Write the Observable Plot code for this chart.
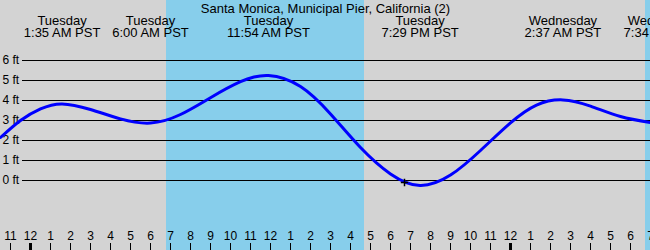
<!DOCTYPE html>
<html>
<head>
<meta charset="utf-8">
<script src="https://cdn.jsdelivr.net/npm/d3@7"></script>
<script src="https://cdn.jsdelivr.net/npm/@observablehq/plot@0.6"></script>
<style>
  html, body { margin: 0; padding: 0; background: #d3d3d3; }
</style>
</head>
<body>
<div id="chart"></div>
<script>
// Hours since Tuesday 00:00 PST
const title = "Santa Monica, Municipal Pier, California (2)";

const tideHours = [-1.5, -0.5, 0.5, 1.58, 3.0, 4.5, 6.0, 7.5, 9.0, 10.5, 11.9, 13.5, 15, 16.5, 18, 19.48, 21, 22.5, 24, 25.3, 26.62, 28, 29.5, 31];
const tideFeet  = [2.15, 3.0, 3.58, 3.83, 3.55, 3.08, 2.87, 3.3, 4.14, 4.94, 5.25, 4.7, 3.33, 1.65, 0.33, -0.25, 0.27, 1.5, 2.88, 3.77, 4.03, 3.72, 3.2, 2.9];

const sunrise = [6.8, 30.75];
const sunset  = [16.7, 31.5];

const eventHours = [1.58, 6.0, 11.9, 19.48, 26.62, 31.57];
const eventDays  = ["Tuesday", "Tuesday", "Tuesday", "Tuesday", "Wednesday", "Wednesday"];
const eventTimes = ["1:35 AM PST", "6:00 AM PST", "11:54 AM PST", "7:29 PM PST", "2:37 AM PST", "7:34 AM PST"];

const feetLevels = [0, 1, 2, 3, 4, 5, 6];
const feetLabels = ["0 ft", "1 ft", "2 ft", "3 ft", "4 ft", "5 ft", "6 ft"];

const hourTicks  = [-1, 0, 1, 2, 3, 4, 5, 6, 7, 8, 9, 10, 11, 12, 13, 14, 15, 16, 17, 18, 19, 20, 21, 22, 23, 24, 25, 26, 27, 28, 29, 30, 31];
const hourLabels = ["11", "12", "1", "2", "3", "4", "5", "6", "7", "8", "9", "10", "11", "12", "1", "2", "3", "4", "5", "6", "7", "8", "9", "10", "11", "12", "1", "2", "3", "4", "5", "6", "7"];
const midnights  = [0, 24];

const nowHour = [18.7];
const nowFeet = [-0.1];

const tide = tideHours.map((h, i) => ({h, ft: tideFeet[i]}));
const bands = sunrise.map((s, i) => ({s, e: sunset[i]}));
const events = eventHours.map((h, i) => ({h, day: eventDays[i], time: eventTimes[i]}));
const levels = feetLevels.map((v, i) => ({v, label: feetLabels[i]}));
const ticks = hourTicks.map((h, i) => ({h, label: hourLabels[i]}));
const now = nowHour.map((h, i) => ({h, ft: nowFeet[i]}));

const chart = Plot.plot({
  width: 650,
  height: 250,
  margin: 0,
  x: {domain: [-1.5, 31], axis: null},
  y: {domain: [-3.5, 9], axis: null},
  style: {fontFamily: "'Liberation Sans', Arial, sans-serif", fontSize: "12px", background: "#d3d3d3", color: "black"},
  marks: [
    Plot.frame({fill: "#d3d3d3", stroke: null}),
    Plot.rect(bands, {x1: "s", x2: "e", fill: "#87ceeb"}),
    Plot.ruleY(levels, {y: "v", stroke: "black", strokeWidth: 1, insetLeft: 22}),
    Plot.text(levels, {y: "v", text: "label", frameAnchor: "left", textAnchor: "start", dx: 2, fontSize: 12, fill: "black"}),
    Plot.line(tide, {x: "h", y: "ft", stroke: "#0000ff", strokeWidth: 3, curve: "natural"}),
    Plot.dot(now, {x: "h", y: "ft", symbol: "plus", r: 2.5, stroke: "black", strokeWidth: 1.5}),
    Plot.ruleX(ticks, {x: "h", stroke: "black", strokeWidth: 1, insetTop: 243}),
    Plot.ruleX(midnights, {x: d => d, stroke: "black", strokeWidth: 3, insetTop: 243}),
    Plot.text(ticks, {x: "h", text: "label", frameAnchor: "bottom", lineAnchor: "middle", dy: -14, fontSize: 12, fill: "black"}),
    Plot.text(events, {x: "h", text: "day", frameAnchor: "top", lineAnchor: "middle", dy: 20, fontSize: 13, fill: "black"}),
    Plot.text(events, {x: "h", text: "time", frameAnchor: "top", lineAnchor: "middle", dy: 32, fontSize: 13, fill: "black"}),
    Plot.text([title], {text: d => d, frameAnchor: "top", lineAnchor: "middle", dy: 8, fontSize: 13, fill: "black"})
  ]
});
document.getElementById("chart").appendChild(chart);
</script>
</body>
</html>
